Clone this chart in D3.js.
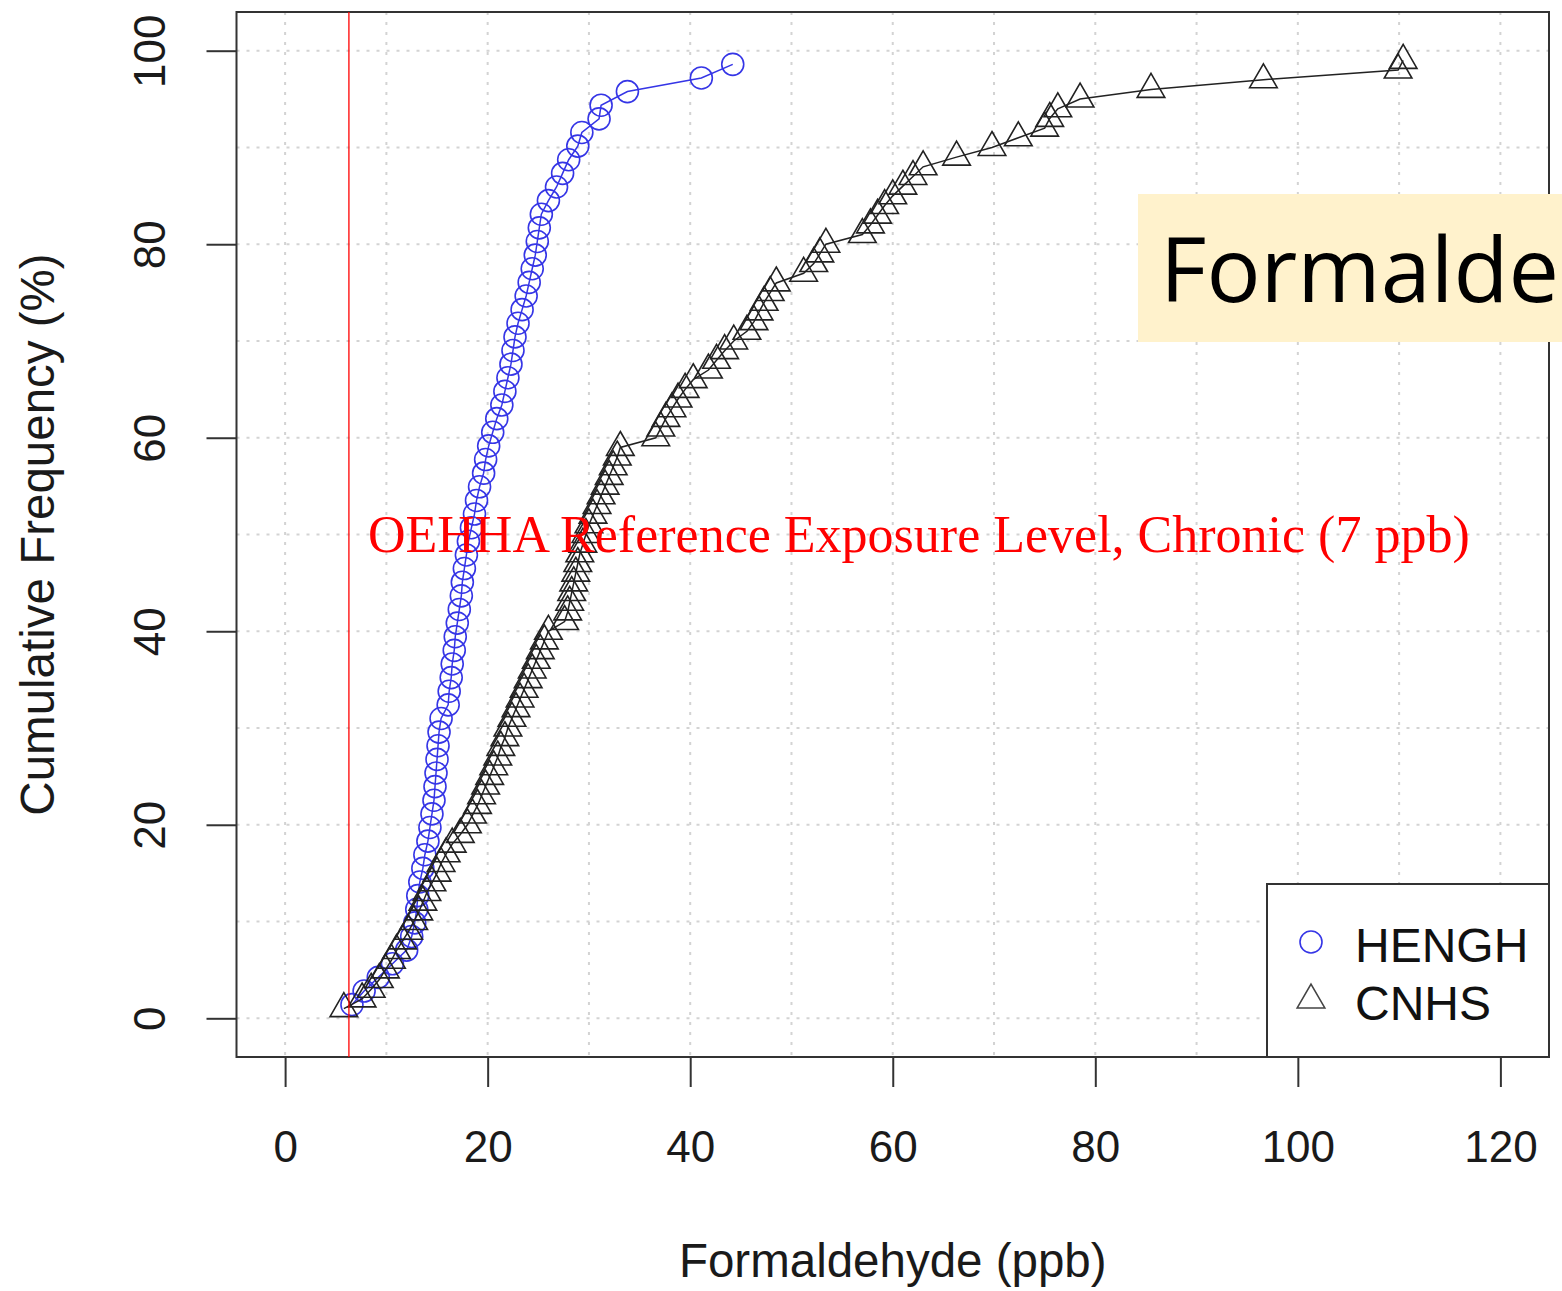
<!DOCTYPE html>
<html>
<head>
<meta charset="utf-8">
<script src="https://cdn.jsdelivr.net/npm/d3@7"></script>
<style>
  body { margin: 0; background: #fff; }
  svg { display: block; }
</style>
</head>
<body>
<svg></svg>
<script>

// formaldehyde concentrations (ppb), sorted, one value per home
let henghPpb = [6.6, 7.8, 9.2, 10.6, 12.0, 12.5, 12.8, 13.0, 13.1, 13.3,
    13.6, 13.8, 14.1, 14.3, 14.5, 14.7, 14.8, 14.9, 15.0, 15.1,
    15.2, 15.4, 16.1, 16.2, 16.4, 16.5, 16.7, 16.8, 17.0, 17.2,
    17.4, 17.5, 17.7, 17.9, 18.1, 18.4, 18.7, 18.9, 19.2, 19.6,
    19.8, 20.1, 20.5, 20.9, 21.4, 21.7, 22.0, 22.3, 22.5, 22.7,
    23.0, 23.4, 23.8, 24.1, 24.4, 24.7, 24.9, 25.1, 25.3, 26.0,
    26.8, 27.4, 28.0, 28.9, 29.3, 31.0, 31.2, 33.8, 41.1, 44.2]

let cnhsPpb = [5.8, 7.6, 8.5, 9.3, 9.9, 10.5, 11.0, 11.6, 12.2, 12.7,
    13.2, 13.6, 14.0, 14.5, 15.0, 15.4, 15.9, 16.5, 17.3, 18.0,
    18.5, 19.0, 19.4, 19.8, 20.2, 20.6, 21.0, 21.3, 21.7, 22.0,
    22.4, 22.8, 23.2, 23.6, 24.0, 24.4, 24.8, 25.2, 25.6, 26.0,
    27.6, 27.9, 28.1, 28.3, 28.5, 28.7, 28.9, 29.1, 29.4, 29.7,
    30.0, 30.4, 30.8, 31.2, 31.6, 32.0, 32.4, 32.8, 33.1, 36.6,
    37.1, 37.6, 38.2, 38.8, 39.5, 40.3, 41.8, 42.6, 43.4, 44.3,
    45.6, 46.3, 46.8, 47.3, 47.9, 48.5, 51.2, 52.2, 52.8, 53.4,
    57.0, 57.8, 58.5, 59.2, 60.0, 61.0, 62.0, 63.0, 66.3, 69.8,
    72.4, 75.0, 75.5, 76.3, 78.5, 85.5, 96.6, 109.9, 110.4]

let seriesNames = ['HENGH', 'CNHS']
let xTicks = [0, 20, 40, 60, 80, 100, 120]
let yTicks = [0, 20, 40, 60, 80, 100]
let xGrid = d3.range(0, 121, 10)
let yGrid = d3.range(0, 101, 10)

// the red guide line sits a little left of 7 in the figure
let relLine = 6.3
let relLabel = 'OEHHA Reference Exposure Level, Chronic (7 ppb)'
let titleText = 'Formaldehyde'

let width = 1562
let height = 1291
let plotLeft = 236.5
let plotRight = 1549
let plotTop = 12
let plotBottom = 1057

let xScale
let yScale

let svg = d3.select('svg')

// cumulative frequency (%) from the rank of each sorted value
const toCdf = (values) => {
    return values.map((v, i) => {
        return { x: v, y: (i + 1) / (values.length + 1) * 100 }
    })
}

const drawCanvas = () => {
    svg.attr('width', width)
    svg.attr('height', height)
    svg.append('rect')
        .attr('width', width)
        .attr('height', height)
        .attr('fill', '#fff')
}

const generateScales = () => {
    xScale = d3.scaleLinear()
               .domain([-4.8, 124.8])
               .range([plotLeft, plotRight])
    yScale = d3.scaleLinear()
               .domain([-4, 104])
               .range([plotBottom, plotTop])
}

const drawGrid = () => {
    let g = svg.append('g')
               .attr('stroke', '#d3d3d3')
               .attr('stroke-width', 2)
               .attr('stroke-dasharray', '3,7')
    g.selectAll('.vgrid')
        .data(xGrid)
        .enter()
        .append('line')
        .attr('x1', (d) => xScale(d))
        .attr('x2', (d) => xScale(d))
        .attr('y1', plotTop)
        .attr('y2', plotBottom)
    g.selectAll('.hgrid')
        .data(yGrid)
        .enter()
        .append('line')
        .attr('x1', plotLeft)
        .attr('x2', plotRight)
        .attr('y1', (d) => yScale(d))
        .attr('y2', (d) => yScale(d))
}

const drawSeries = () => {
    let line = d3.line()
                 .x((d) => xScale(d.x))
                 .y((d) => yScale(d.y))

    // HENGH: blue circles
    let heng = toCdf(henghPpb)
    svg.append('path')
        .datum(heng)
        .attr('d', line)
        .attr('fill', 'none')
        .attr('stroke', '#3535e6')
        .attr('stroke-width', 1.5)
    svg.selectAll('.heng')
        .data(heng)
        .enter()
        .append('circle')
        .attr('cx', (d) => xScale(d.x))
        .attr('cy', (d) => yScale(d.y))
        .attr('r', 11)
        .attr('fill', 'none')
        .attr('stroke', '#3535e6')
        .attr('stroke-width', 1.6)

    // CNHS: black triangles
    let cnhs = toCdf(cnhsPpb)
    let tri = d3.symbol().type(d3.symbolTriangle).size(330)
    svg.append('path')
        .datum(cnhs)
        .attr('d', line)
        .attr('fill', 'none')
        .attr('stroke', '#222')
        .attr('stroke-width', 1.5)
    svg.selectAll('.cnhs')
        .data(cnhs)
        .enter()
        .append('path')
        .attr('d', tri)
        .attr('transform', (d) => 'translate(' + xScale(d.x) + ',' + yScale(d.y) + ')')
        .attr('fill', 'none')
        .attr('stroke', '#222')
        .attr('stroke-width', 1.6)
}

const generateAxes = () => {
    let xAxis = d3.axisBottom(xScale)
                  .tickValues(xTicks)
                  .tickSize(30)
                  .tickSizeOuter(0)
                  .tickPadding(44)
    let yAxis = d3.axisLeft(yScale)
                  .tickValues(yTicks)
                  .tickSize(30)
                  .tickSizeOuter(0)

    let gx = svg.append('g')
        .call(xAxis)
        .attr('id', 'x-axis')
        .attr('transform', 'translate(0,' + plotBottom + ')')
    gx.select('.domain').remove()
    gx.selectAll('line').attr('stroke', '#333').attr('stroke-width', 2)
    gx.selectAll('text')
        .attr('font-family', 'Liberation Sans, Arial, sans-serif')
        .attr('font-size', 44)
        .attr('fill', '#1a1a1a')

    let gy = svg.append('g')
        .call(yAxis)
        .attr('id', 'y-axis')
        .attr('transform', 'translate(' + plotLeft + ',0)')
    gy.select('.domain').remove()
    gy.selectAll('line').attr('stroke', '#333').attr('stroke-width', 2)
    gy.selectAll('text')
        .attr('x', null)
        .attr('dy', null)
        .attr('text-anchor', 'middle')
        .attr('transform', 'translate(-72,0) rotate(-90)')
        .attr('font-family', 'Liberation Sans, Arial, sans-serif')
        .attr('font-size', 44)
        .attr('fill', '#1a1a1a')

    // plot frame
    svg.append('rect')
        .attr('x', plotLeft)
        .attr('y', plotTop)
        .attr('width', plotRight - plotLeft)
        .attr('height', plotBottom - plotTop)
        .attr('fill', 'none')
        .attr('stroke', '#333')
        .attr('stroke-width', 2)

    svg.append('text')
        .attr('x', (plotLeft + plotRight) / 2)
        .attr('y', 1277)
        .attr('text-anchor', 'middle')
        .attr('font-family', 'Liberation Sans, Arial, sans-serif')
        .attr('font-size', 47.5)
        .attr('fill', '#1a1a1a')
        .text('Formaldehyde (ppb)')

    svg.append('text')
        .attr('transform', 'translate(54,' + (plotTop + plotBottom) / 2 + ') rotate(-90)')
        .attr('text-anchor', 'middle')
        .attr('font-family', 'Liberation Sans, Arial, sans-serif')
        .attr('font-size', 47.5)
        .attr('fill', '#1a1a1a')
        .text('Cumulative Frequency (%)')
}

const drawLegend = () => {
    let g = svg.append('g')
    g.append('rect')
        .attr('x', 1267)
        .attr('y', 884)
        .attr('width', plotRight - 1267)
        .attr('height', plotBottom - 884)
        .attr('fill', '#fff')
        .attr('stroke', '#333')
        .attr('stroke-width', 2)
    g.append('circle')
        .attr('cx', 1311)
        .attr('cy', 942)
        .attr('r', 11)
        .attr('fill', 'none')
        .attr('stroke', '#3535e6')
        .attr('stroke-width', 1.6)
    g.append('path')
        .attr('d', d3.symbol().type(d3.symbolTriangle).size(330))
        .attr('transform', 'translate(1311,1000)')
        .attr('fill', 'none')
        .attr('stroke', '#444')
        .attr('stroke-width', 1.6)
    g.selectAll('.legtext')
        .data(seriesNames)
        .enter()
        .append('text')
        .attr('x', 1355)
        .attr('y', (d, i) => 962 + i * 58)
        .attr('font-family', 'Liberation Sans, Arial, sans-serif')
        .attr('font-size', 48)
        .attr('fill', '#111')
        .text((d) => d)
}

const drawAnnotations = () => {
    svg.append('line')
        .attr('x1', xScale(relLine))
        .attr('x2', xScale(relLine))
        .attr('y1', plotTop)
        .attr('y2', plotBottom)
        .attr('stroke', 'red')
        .attr('stroke-width', 1.3)

    svg.append('text')
        .attr('x', 368)
        .attr('y', 552)
        .attr('font-family', 'Liberation Serif, Times New Roman, serif')
        .attr('font-size', 52)
        .attr('fill', '#ff0000')
        .text(relLabel)

    svg.append('rect')
        .attr('x', 1138)
        .attr('y', 194)
        .attr('width', 440)
        .attr('height', 148)
        .attr('fill', '#fff2cc')
    svg.append('text')
        .attr('x', 1160)
        .attr('y', 302)
        .attr('font-family', 'Open Sans, sans-serif')
        .attr('font-size', 90)
        .attr('fill', '#000')
        .text(titleText)
}

drawCanvas()
generateScales()
drawGrid()
drawSeries()
generateAxes()
drawLegend()
drawAnnotations()

</script>
</body>
</html>
